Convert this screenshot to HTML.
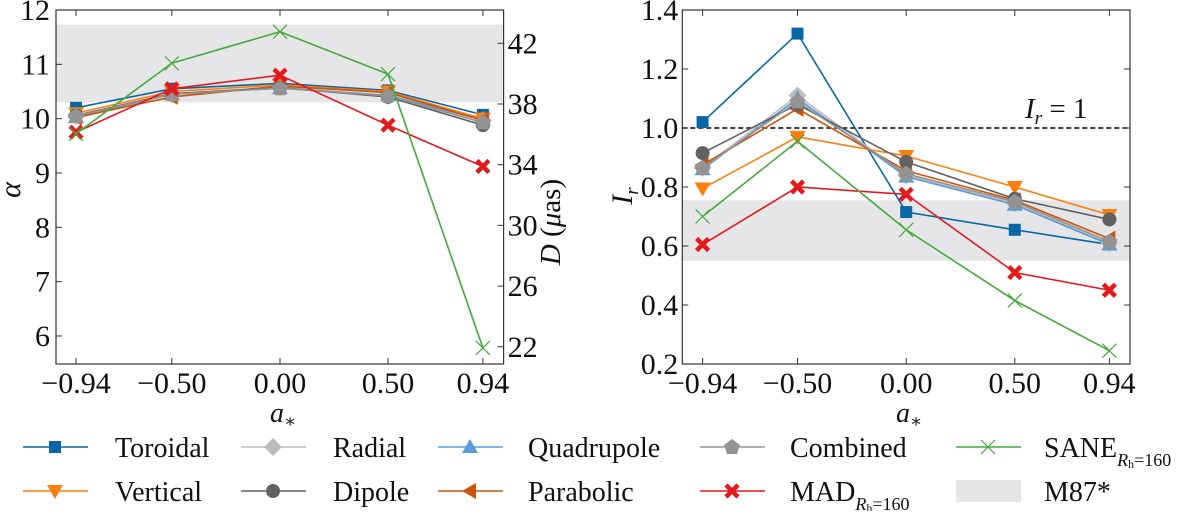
<!DOCTYPE html>
<html><head><meta charset="utf-8"><style>
html,body{margin:0;padding:0;background:#fff;}
text{font-family:'Liberation Serif','DejaVu Serif',serif;}
</style></head><body>
<svg id="s" width="1200" height="511" viewBox="0 0 1200 511" xmlns="http://www.w3.org/2000/svg"></svg>
<script>
const s=document.getElementById('s');
let h='';
function add(x){h+=x;}
const F=`style="font-family:'Liberation Serif','DejaVu Serif',serif" fill="#111"`;
const L0=56,L1=503.6;
const LX=[76,171.8,280,388,482.9];
const ly=v=>10+(12-v)*54.33;
add(`<rect x="${L0}" y="${ly(11.73)}" width="${L1-L0}" height="${ly(10.3)-ly(11.73)}" fill="#e6e6e8"/>`);
const R0=682.3,R1=1130;
const RX=[702.6,797.5,906.2,1014.8,1109.4];
const ry=v=>10+(1.4-v)*295;
add(`<rect x="${R0}" y="${ry(0.755)}" width="${R1-R0}" height="${ry(0.55)-ry(0.755)}" fill="#e6e6e8"/>`);
add(`<line x1="${R0}" x2="${R1}" y1="${ry(1)}" y2="${ry(1)}" stroke="#000" stroke-width="1.5" stroke-dasharray="5,3"/>`);
add(`<text ${F} x="1025" y="118" font-size="29"><tspan font-style="italic">I</tspan><tspan font-size="19" font-style="italic" dy="6">r</tspan><tspan dy="-6"> = 1</tspan></text>`);
const C={tor:'#0a67a6',rad:'#bdbdbd',quad:'#5b9bd5',comb:'#939393',vert:'#ff7f0e',dip:'#626262',par:'#cc530d',mad:'#e31a1c',sane:'#44aa3c'};
function mk(t,x,y,c){
 if(t=='sq')return `<rect x="${x-6}" y="${y-6}" width="12" height="12" fill="${c}"/>`;
 if(t=='di')return `<polygon points="${x},${y-9} ${x+9},${y} ${x},${y+9} ${x-9},${y}" fill="${c}"/>`;
 if(t=='up')return `<polygon points="${x},${y-8} ${x+8},${y+6} ${x-8},${y+6}" fill="${c}"/>`;
 if(t=='dn')return `<polygon points="${x},${y+8} ${x+8},${y-6} ${x-8},${y-6}" fill="${c}"/>`;
 if(t=='lt')return `<polygon points="${x-8},${y} ${x+6},${y-8} ${x+6},${y+8}" fill="${c}"/>`;
 if(t=='ci')return `<circle cx="${x}" cy="${y}" r="7" fill="${c}"/>`;
 if(t=='pe')return `<polygon points="${x},${y-8} ${x+8},${y-2} ${x+5},${y+7} ${x-5},${y+7} ${x-8},${y-2}" fill="${c}"/>`;
 if(t=='X')return `<path d="M${x-6},${y-6}L${x+6},${y+6}M${x+6},${y-6}L${x-6},${y+6}" stroke="${c}" stroke-width="4.5"/>`;
 if(t=='x')return `<path d="M${x-7},${y-7}L${x+7},${y+7}M${x+7},${y-7}L${x-7},${y+7}" stroke="${c}" stroke-width="1.2"/>`;
}
const series=[
 ['tor','sq',[10.2,10.55,10.65,10.52,10.07],[1.02,1.32,0.715,0.655,0.605]],
 ['rad','di',[10.05,10.45,10.58,10.42,9.97],[0.865,1.11,0.84,0.745,0.61]],
 ['quad','up',[10.03,10.45,10.56,10.43,9.98],[0.86,1.1,0.835,0.74,0.605]],
 ['vert','dn',[10.1,10.5,10.62,10.5,10.0],[0.795,0.97,0.905,0.80,0.705]],
 ['par','lt',[10.02,10.4,10.6,10.48,9.97],[0.875,1.065,0.855,0.755,0.625]],
 ['dip','ci',[10.06,10.46,10.57,10.4,9.88],[0.915,1.08,0.885,0.76,0.69]],
 ['comb','pe',[10.05,10.45,10.56,10.42,9.93],[0.865,1.09,0.845,0.75,0.615]],
 ['mad','X',[9.75,10.55,10.8,9.88,9.12],[0.605,0.80,0.775,0.51,0.45]],
 ['sane','x',[9.72,11.02,11.6,10.82,5.78],[0.70,0.955,0.655,0.415,0.245]],
];
for(const [k,m,a,r] of series){
 const c=C[k];
 add(`<polyline fill="none" stroke="${c}" stroke-width="1.6" points="${a.map((v,i)=>LX[i]+','+ly(v)).join(' ')}"/>`);
 a.forEach((v,i)=>add(mk(m,LX[i],ly(v),c)));
 add(`<polyline fill="none" stroke="${c}" stroke-width="1.6" points="${r.map((v,i)=>RX[i]+','+ry(v)).join(' ')}"/>`);
 r.forEach((v,i)=>add(mk(m,RX[i],ry(v),c)));
}
add(`<rect x="${L0}" y="10" width="${L1-L0}" height="354" fill="none" stroke="#333" stroke-width="1.2"/>`);
add(`<rect x="${R0}" y="10" width="${R1-R0}" height="354" fill="none" stroke="#333" stroke-width="1.2"/>`);
const xl=['−0.94','−0.50','0.00','0.50','0.94'];
[LX,RX].forEach(X=>X.forEach((x,i)=>{add(`<line x1="${x}" x2="${x}" y1="364" y2="358" stroke="#333"/><line x1="${x}" x2="${x}" y1="10" y2="16" stroke="#333"/><text ${F} x="${x}" y="393" font-size="30" text-anchor="middle">${xl[i]}</text>`);}));
for(let v=6;v<=12;v++){const y=ly(v);add(`<line x1="${L0}" x2="${L0+6}" y1="${y}" y2="${y}" stroke="#333"/><text ${F} x="${L0-6}" y="${y+10}" font-size="30" text-anchor="end">${v}</text>`);}
[42,38,34,30,26,22].forEach((d,i)=>{const y=43.3+i*60.7;add(`<line x1="${L1}" x2="${L1-6}" y1="${y}" y2="${y}" stroke="#333"/><text ${F} x="${L1+4}" y="${y+10}" font-size="30">${d}</text>`);});
[0.2,0.4,0.6,0.8,1.0,1.2,1.4].forEach(v=>{const y=ry(v);add(`<line x1="${R0}" x2="${R0+6}" y1="${y}" y2="${y}" stroke="#333"/><line x1="${R1}" x2="${R1-6}" y1="${y}" y2="${y}" stroke="#333"/><text ${F} x="${R0-4}" y="${y+10}" font-size="30" text-anchor="end">${v.toFixed(1)}</text>`);});
add(`<text ${F} x="20" y="190" font-size="30" font-style="italic" transform="rotate(-90 20 190)" text-anchor="middle">α</text>`);
add(`<text ${F} x="560" y="222" font-size="29" transform="rotate(-90 560 222)" text-anchor="middle"><tspan font-style="italic">D</tspan> (<tspan font-style="italic">μ</tspan>as)</text>`);
add(`<text ${F} x="632" y="196" font-size="30" transform="rotate(-90 632 196)" text-anchor="middle"><tspan font-style="italic">I</tspan><tspan font-size="19" font-style="italic" dy="6">r</tspan></text>`);
add(`<text ${F} x="270" y="422" font-size="28" font-style="italic">a<tspan font-size="18" dy="5">∗</tspan></text>`);
add(`<text ${F} x="896" y="422" font-size="28" font-style="italic">a<tspan font-size="18" dy="5">∗</tspan></text>`);
const hx=[23,241,438,700,956], tx=[115,333,528,790,1044];
const leg=[
 [0,447,'tor','sq','Toroidal'],[1,447,'rad','di','Radial'],[2,447,'quad','up','Quadrupole'],[3,447,'comb','pe','Combined'],[4,447,'sane','x','SANE'],
 [0,491,'vert','dn','Vertical'],[1,491,'dip','ci','Dipole'],[2,491,'par','lt','Parabolic'],[3,491,'mad','X','MAD'],
];
leg.forEach(([i,y,k,m,t])=>{
 const c=C[k],x=hx[i];
 add(`<line x1="${x}" x2="${x+65}" y1="${y}" y2="${y}" stroke="${c}" stroke-width="1.6"/>`);
 add(mk(m,x+32,y,c));
 let lab=t;
 if(t=='SANE'||t=='MAD') lab=`${t}<tspan font-size="18" font-style="italic" dy="9">R</tspan><tspan font-size="12" dy="2">h</tspan><tspan font-size="18" dy="-2">=160</tspan>`;
 add(`<text ${F} x="${tx[i]}" y="${y+10}" font-size="28">${lab}</text>`);
});
add(`<rect x="956" y="480" width="65" height="22" fill="#e6e6e8"/><text ${F} x="1044" y="501" font-size="28">M87*</text>`);
s.innerHTML=h;
</script>
</body></html>
